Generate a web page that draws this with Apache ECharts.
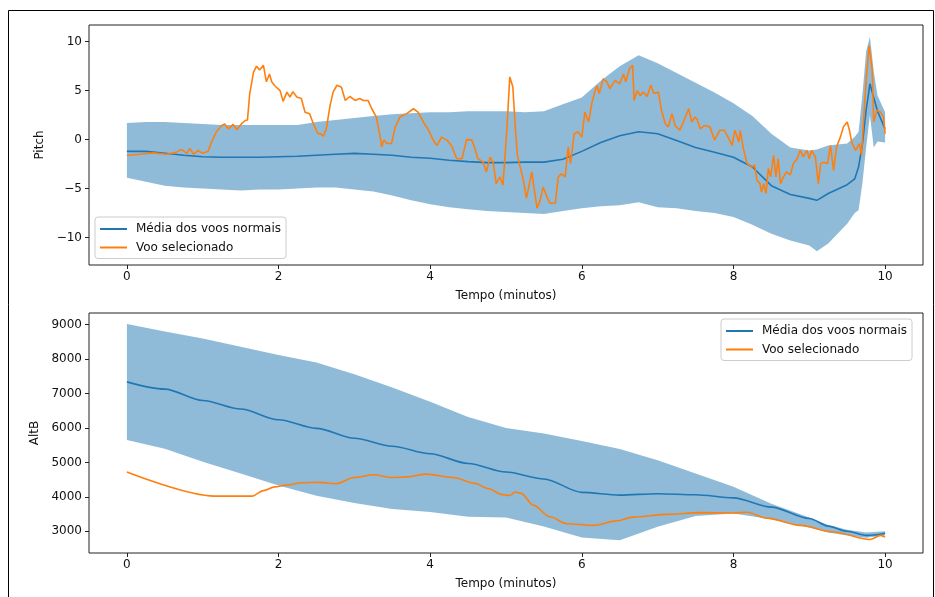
<!DOCTYPE html>
<html>
<head>
<meta charset="utf-8">
<script src="https://cdn.jsdelivr.net/npm/echarts@6/dist/echarts.min.js"></script>
<style>
  html, body { margin: 0; padding: 0; background: #fff; }
  #chart { width: 935px; height: 597px; }
</style>
</head>
<body>
<div id="chart"></div>
<script>
// ticks
const timeTicks = [0, 2, 4, 6, 8, 10];
const pitchTicks = [-10, -5, 0, 5, 10];
const altTicks = [3000, 4000, 5000, 6000, 7000, 8000, 9000];

const meanName = 'Média dos voos normais';
const selName = 'Voo selecionado';

// Pitch - media e faixa dos voos normais
const pitchBandTime = [0, 0.25, 0.5, 0.75, 1, 1.25, 1.5, 1.75, 2, 2.25, 2.5, 2.75, 3, 3.25, 3.5, 3.75, 4, 4.25, 4.5, 4.75, 5, 5.25, 5.5, 5.75, 6, 6.25, 6.5, 6.75, 7, 7.25, 7.5, 7.75, 8, 8.25, 8.5, 8.75, 9, 9.1, 9.25, 9.5, 9.6, 9.65, 9.7, 9.75, 9.8, 9.85, 9.9, 10];
const pitchUpper = [1.7, 1.8, 1.8, 1.7, 1.6, 1.5, 1.5, 1.5, 1.5, 1.5, 1.8, 2.0, 2.2, 2.4, 2.6, 2.7, 2.8, 2.8, 2.9, 2.9, 2.9, 2.8, 2.9, 3.6, 4.3, 6.0, 7.5, 8.6, 7.8, 6.8, 5.8, 4.8, 3.7, 2.4, 0.6, -0.8, -1.1, -1.0, -0.6, -0.4, 0.3, 0.8, 4.5, 9.0, 10.5, 7.0, 4.5, 2.8];
const pitchLower = [-3.9, -4.3, -4.7, -4.9, -5.0, -5.1, -5.2, -5.1, -5.1, -5.0, -4.9, -4.9, -5.1, -5.3, -5.7, -6.2, -6.6, -6.9, -7.1, -7.3, -7.4, -7.5, -7.6, -7.3, -7.0, -6.8, -6.7, -6.4, -6.9, -7.0, -7.3, -7.5, -7.9, -8.7, -9.6, -10.3, -10.8, -11.4, -10.6, -8.6, -7.5, -7.2, -4.5, -0.8, 2.5, -0.8, -0.2, -0.3];
const pitchMean = [-1.2, -1.2, -1.4, -1.6, -1.75, -1.8, -1.8, -1.8, -1.75, -1.7, -1.6, -1.5, -1.4, -1.5, -1.6, -1.8, -1.9, -2.1, -2.25, -2.35, -2.35, -2.3, -2.3, -2.0, -1.2, -0.3, 0.4, 0.8, 0.6, -0.1, -0.8, -1.3, -1.8, -2.8, -4.7, -5.6, -6.0, -6.2, -5.5, -4.6, -4.0, -2.8, -0.5, 3.0, 5.7, 4.3, 2.9, 1.1];

// Pitch - voo selecionado
const pitchSelTime = [0, 0.17, 0.35, 0.52, 0.65, 0.72, 0.79, 0.83, 0.88, 0.94, 1.0, 1.07, 1.12, 1.18, 1.25, 1.29, 1.34, 1.4, 1.45, 1.51, 1.56, 1.59, 1.62, 1.67, 1.71, 1.75, 1.8, 1.84, 1.88, 1.91, 1.95, 2.02, 2.06, 2.11, 2.15, 2.19, 2.24, 2.3, 2.35, 2.41, 2.46, 2.52, 2.55, 2.59, 2.63, 2.68, 2.72, 2.77, 2.83, 2.88, 2.94, 3.01, 3.07, 3.12, 3.18, 3.23, 3.29, 3.34, 3.36, 3.39, 3.43, 3.49, 3.54, 3.6, 3.69, 3.78, 3.84, 3.91, 3.98, 4.04, 4.09, 4.15, 4.22, 4.28, 4.35, 4.42, 4.48, 4.55, 4.59, 4.63, 4.7, 4.74, 4.79, 4.83, 4.87, 4.92, 4.96, 5.01, 5.05, 5.09, 5.12, 5.15, 5.18, 5.23, 5.27, 5.34, 5.38, 5.41, 5.45, 5.49, 5.54, 5.58, 5.65, 5.69, 5.73, 5.78, 5.82, 5.85, 5.9, 5.95, 6.0, 6.04, 6.09, 6.13, 6.17, 6.2, 6.23, 6.28, 6.33, 6.37, 6.44, 6.5, 6.55, 6.58, 6.63, 6.67, 6.69, 6.73, 6.77, 6.81, 6.86, 6.91, 6.95, 7.01, 7.05, 7.1, 7.14, 7.19, 7.23, 7.29, 7.34, 7.41, 7.45, 7.49, 7.52, 7.56, 7.62, 7.69, 7.75, 7.82, 7.88, 7.93, 7.98, 8.02, 8.07, 8.09, 8.13, 8.18, 8.24, 8.28, 8.31, 8.35, 8.37, 8.4, 8.43, 8.46, 8.49, 8.53, 8.56, 8.59, 8.62, 8.66, 8.7, 8.75, 8.79, 8.84, 8.88, 8.92, 8.97, 9.0, 9.03, 9.08, 9.12, 9.15, 9.19, 9.24, 9.28, 9.32, 9.36, 9.41, 9.45, 9.5, 9.53, 9.56, 9.61, 9.66, 9.69, 9.71, 9.75, 9.79, 9.83, 9.85, 9.89, 9.94, 9.98, 10.0];
const pitchSel = [-1.6, -1.5, -1.35, -1.5, -1.3, -1.0, -1.4, -0.9, -1.5, -1.1, -1.4, -1.2, -0.2, 0.8, 1.45, 1.6, 1.1, 1.55, 1.0, 1.6, 1.95, 2.0, 4.7, 6.9, 7.5, 7.1, 7.6, 5.9, 6.7, 5.9, 5.5, 5.0, 3.9, 4.85, 4.35, 4.9, 4.35, 4.2, 2.8, 2.65, 1.6, 0.6, 0.6, 0.35, 1.1, 3.5, 4.85, 5.55, 5.35, 4.0, 4.4, 4.0, 4.2, 4.0, 4.0, 3.15, 2.3, 0.3, -0.75, -0.05, -0.4, -0.4, 1.3, 2.3, 2.65, 3.15, 2.8, 1.8, 0.95, -0.05, -0.6, 0.25, -0.05, -0.6, -1.95, -1.95, 0.0, -0.05, -0.9, -1.95, -2.3, -3.3, -1.8, -2.3, -4.5, -3.8, -4.65, 0.9, 6.4, 5.4, 1.6, -1.6, -2.6, -4.15, -6.0, -3.3, -5.5, -7.0, -6.2, -4.85, -5.85, -6.5, -6.5, -3.8, -3.5, -3.8, -0.75, -2.45, 0.6, 0.8, 0.25, 2.8, 1.8, 3.65, 4.85, 5.5, 4.7, 6.2, 5.9, 5.2, 6.05, 5.7, 6.7, 5.9, 7.25, 7.6, 4.0, 5.0, 4.5, 4.85, 4.4, 5.55, 4.7, 4.85, 3.0, 1.65, 1.3, 2.65, 1.45, 0.95, 1.8, 3.15, 1.8, 2.3, 2.1, 1.1, 1.45, 1.3, -0.05, 0.95, 0.95, 0.25, -0.6, 0.95, -0.25, 0.95, -0.9, -2.45, -2.8, -2.6, -4.15, -4.5, -5.35, -4.5, -5.5, -2.95, -3.8, -1.6, -3.8, -1.95, -4.5, -3.8, -3.3, -3.6, -2.45, -1.95, -1.1, -1.75, -1.1, -1.95, -1.1, -1.75, -4.5, -2.45, -2.3, -2.45, -0.6, -3.15, -0.75, 0.25, 1.3, 1.8, 0.95, -0.25, -1.1, -0.4, -1.6, 1.3, 6.05, 9.6, 7.1, 1.8, 3.0, 2.8, 2.3, 0.6];

// AltB - media e faixa dos voos normais
const altBandTime = [0, 0.5, 1, 1.5, 2, 2.5, 3, 3.5, 4, 4.5, 5, 5.5, 6, 6.5, 7, 7.5, 8, 8.5, 9, 9.25, 9.5, 9.75, 9.85, 10];
const altUpper = [9020, 8800, 8600, 8360, 8120, 7900, 7560, 7180, 6760, 6320, 6000, 5840, 5620, 5390, 5060, 4680, 4290, 3800, 3400, 3180, 3040, 2960, 2980, 3000];
const altLower = [5650, 5400, 5020, 4680, 4330, 4030, 3820, 3650, 3560, 3420, 3400, 3140, 2820, 2740, 3130, 3440, 3515, 3350, 3110, 2960, 2880, 2810, 2840, 2880];
const altMean = [7340, 7130, 6800, 6550, 6240, 5990, 5700, 5470, 5250, 4970, 4720, 4520, 4130, 4050, 4090, 4060, 3970, 3700, 3370, 3150, 3000, 2880, 2890, 2940];

// AltB - voo selecionado
const altSelTime = [0, 1.15, 1.65, 1.8, 1.95, 2.1, 2.3, 2.55, 2.75, 3.0, 3.25, 3.5, 3.7, 3.95, 4.3, 4.6, 4.75, 4.96, 5.05, 5.12, 5.2, 5.36, 5.58, 5.8, 6.15, 6.46, 6.68, 7.12, 7.56, 8.0, 8.18, 8.44, 8.88, 9.32, 9.8, 9.94, 10];
const altSel = [4720, 4020, 4020, 4180, 4290, 4340, 4410, 4420, 4380, 4560, 4640, 4560, 4580, 4660, 4560, 4390, 4250, 4060, 4040, 4140, 4100, 3760, 3420, 3220, 3170, 3300, 3410, 3490, 3540, 3530, 3550, 3380, 3170, 2980, 2760, 2880, 2830];

const blue = '#1f77b4';
const orange = '#ff7f0e';
const bandFill = 'rgba(31,119,180,0.5)';
const textColor = '#111';
const font = 'DejaVu Sans';

const zip = (xs, ys) => xs.map((x, i) => [x, ys[i]]);

function bandSeries(times, lower, upper, idx) {
  return {
    type: 'custom',
    name: 'faixa' + idx,
    xAxisIndex: idx,
    yAxisIndex: idx,
    silent: true,
    z: 1,
    data: times.map((t, i) => [t, lower[i], upper[i]]),
    encode: { x: 0, y: [1, 2] },
    renderItem: function (params, api) {
      if (params.dataIndex !== 0) return;
      const pts = [];
      for (let i = 0; i < times.length; i++) pts.push(api.coord([times[i], upper[i]]));
      for (let i = times.length - 1; i >= 0; i--) pts.push(api.coord([times[i], lower[i]]));
      return { type: 'polygon', shape: { points: pts }, style: { fill: bandFill } };
    },
  };
}

function lineSeries(name, color, data, idx, smooth) {
  return {
    type: 'line',
    name: name,
    xAxisIndex: idx,
    yAxisIndex: idx,
    data: data,
    symbol: 'none',
    smooth: smooth,
    smoothMonotone: 'x',
    z: 3,
    lineStyle: { color: color, width: 1.6 },
    itemStyle: { color: color },
  };
}

const fmt = (v) => (v < 0 ? '\u2212' + Math.abs(v) : String(v));

function xAxisFor(idx) {
  return {
    type: 'value',
    gridIndex: idx,
    position: 'bottom',
    min: -0.5,
    max: 10.5,
    name: 'Tempo (minutos)',
    nameLocation: 'middle',
    nameGap: 25,
    nameTextStyle: { color: textColor, fontSize: 12, fontFamily: font },
    axisLine: { show: false, onZero: false },
    axisTick: { show: true, length: 4, customValues: timeTicks, lineStyle: { color: '#222', width: 1 } },
    axisLabel: { customValues: timeTicks, margin: 6, color: textColor, fontSize: 12, fontFamily: font, formatter: fmt },
    splitLine: { show: false },
  };
}

function yAxisFor(idx, name, min, max, ticks, gap) {
  return {
    type: 'value',
    gridIndex: idx,
    position: 'left',
    min: min,
    max: max,
    name: name,
    nameLocation: 'middle',
    nameGap: gap,
    nameTextStyle: { color: textColor, fontSize: 12, fontFamily: font },
    axisLine: { show: false, onZero: false },
    axisTick: { show: true, length: 4, customValues: ticks, lineStyle: { color: '#222', width: 1 } },
    axisLabel: { customValues: ticks, margin: 7, color: textColor, fontSize: 12, fontFamily: font, formatter: fmt },
    splitLine: { show: false },
  };
}

function legendAt(left, top) {
  return {
    data: [meanName, selName],
    orient: 'vertical',
    left: left,
    top: top,
    padding: [5, 5, 4, 4],
    itemGap: 4.5,
    itemWidth: 27,
    itemHeight: 2,
    itemStyle: { opacity: 0 },
    backgroundColor: 'rgba(255,255,255,0.8)',
    borderColor: '#cccccc',
    borderWidth: 1,
    borderRadius: 3,
    textStyle: { color: textColor, fontSize: 12, fontFamily: font, lineHeight: 14, padding: [0, 0, 0, 4] },
  };
}

const chart = echarts.init(document.getElementById('chart'), null, { renderer: 'canvas' });

const option = {
  animation: false,
  backgroundColor: '#ffffff',
  textStyle: { fontFamily: font },
  graphic: [
    {
      type: 'rect',
      silent: true,
      z: 100,
      shape: { x: 8.5, y: 10.5, width: 925, height: 620 },
      style: { fill: 'none', stroke: '#000', lineWidth: 1 },
    },
  ],
  grid: [
    { left: 89, top: 25, width: 834, height: 240, show: true, borderColor: '#222', borderWidth: 1, backgroundColor: 'transparent', outerBoundsMode: 'none' },
    { left: 89, top: 313, width: 834, height: 240, show: true, borderColor: '#222', borderWidth: 1, backgroundColor: 'transparent', outerBoundsMode: 'none' },
  ],
  legend: [legendAt(95, 217), legendAt(721, 319)],
  xAxis: [xAxisFor(0), xAxisFor(1)],
  yAxis: [
    yAxisFor(0, 'Pitch', -12.8, 11.7, pitchTicks, 42),
    yAxisFor(1, 'AltB', 2368, 9341, altTicks, 48),
  ],
  series: [
    bandSeries(pitchBandTime, pitchLower, pitchUpper, 0),
    lineSeries(meanName, blue, zip(pitchBandTime, pitchMean), 0, false),
    lineSeries(selName, orange, zip(pitchSelTime, pitchSel), 0, false),
    bandSeries(altBandTime, altLower, altUpper, 1),
    lineSeries(meanName, blue, zip(altBandTime, altMean), 1, 0.3),
    lineSeries(selName, orange, zip(altSelTime, altSel), 1, 0.3),
  ],
};

chart.setOption(option);

window.addEventListener('resize', () => {
  chart.resize();
});
</script>
</body>
</html>
